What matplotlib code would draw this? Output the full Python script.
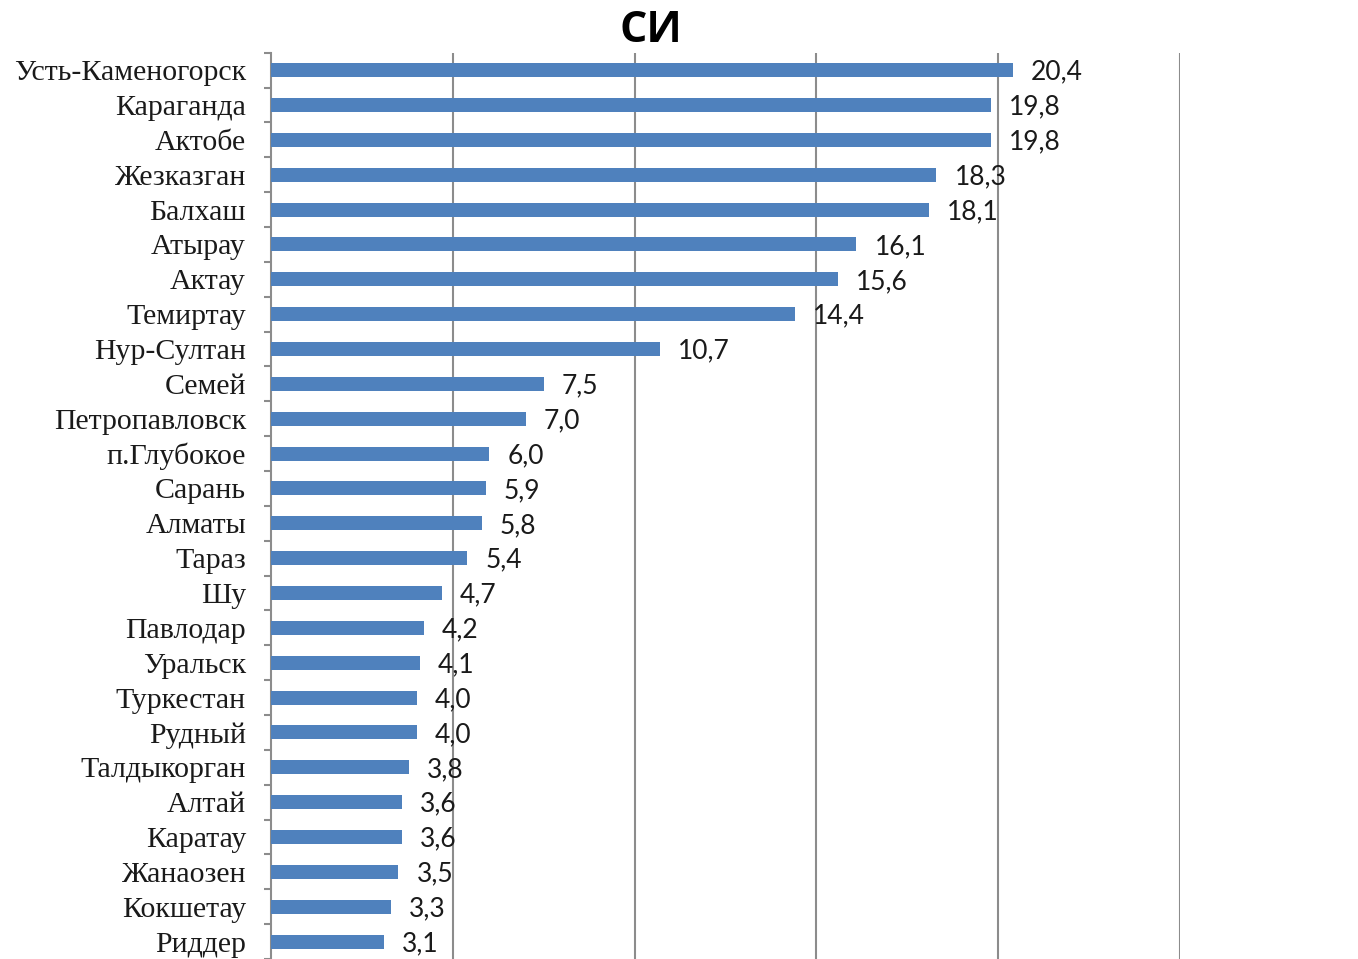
import matplotlib.pyplot as plt
import numpy as np

# Данные (сверху вниз)
cities = ['Усть-Каменогорск', 'Караганда', 'Актобе', 'Жезказган', 'Балхаш',
          'Атырау', 'Актау', 'Темиртау', 'Нур-Султан', 'Семей',
          'Петропавловск', 'п.Глубокое', 'Сарань', 'Алматы', 'Тараз', 'Шу',
          'Павлодар', 'Уральск', 'Туркестан', 'Рудный', 'Талдыкорган',
          'Алтай', 'Каратау', 'Жанаозен', 'Кокшетау', 'Риддер']
values = [20.4, 19.8, 19.8, 18.3, 18.1, 16.1, 15.6, 14.4, 10.7, 7.5,
          7.0, 6.0, 5.9, 5.8, 5.4, 4.7, 4.2, 4.1, 4.0, 4.0, 3.8,
          3.6, 3.6, 3.5, 3.3, 3.1]
grid_ticks = [5, 10, 15, 20, 25]

fig = plt.figure(figsize=(13.58, 9.59), dpi=100)
ax = fig.add_axes([0.1996, 0.0, 0.869 - 0.1996, 0.945])

y = np.arange(len(cities))
ax.barh(y, values, height=0.4, color='#4F81BD', zorder=3)

ax.set_xlim(0, 25)
ax.set_ylim(len(cities) - 0.5, -0.5)

# Вертикальная сетка
ax.set_xticks(grid_ticks)
ax.tick_params(axis='x', length=0, labelbottom=False)
ax.grid(axis='x', color='#8c8c8c', linewidth=1.5, zorder=0)

# Подписи категорий и деления между ними
ax.set_yticks(y)
ax.set_yticklabels(cities, fontsize=21.5, family='Liberation Serif', color='#1a1a1a')
ax.set_yticks(np.arange(len(cities) + 1) - 0.5, minor=True)
ax.tick_params(axis='y', which='major', length=0, pad=18)
ax.tick_params(axis='y', which='minor', length=5, width=1.5, color='#8c8c8c')

for s in ['top', 'right', 'bottom']:
    ax.spines[s].set_visible(False)
ax.spines['left'].set_color('#8c8c8c')
ax.spines['left'].set_linewidth(1.5)

# Подписи значений
for yi, v in zip(y, values):
    ax.annotate(f'{v:.1f}'.replace('.', ','), (v, yi), xytext=(13, -1.5),
                textcoords='offset points', va='center', ha='left',
                fontsize=19, family='Lato', color='#1a1a1a')

fig.text(0.479, 0.968, 'СИ', ha='center', va='center', fontsize=31,
         fontweight='bold', family='Open Sans', color='black')

plt.savefig('out.png', dpi=100)
